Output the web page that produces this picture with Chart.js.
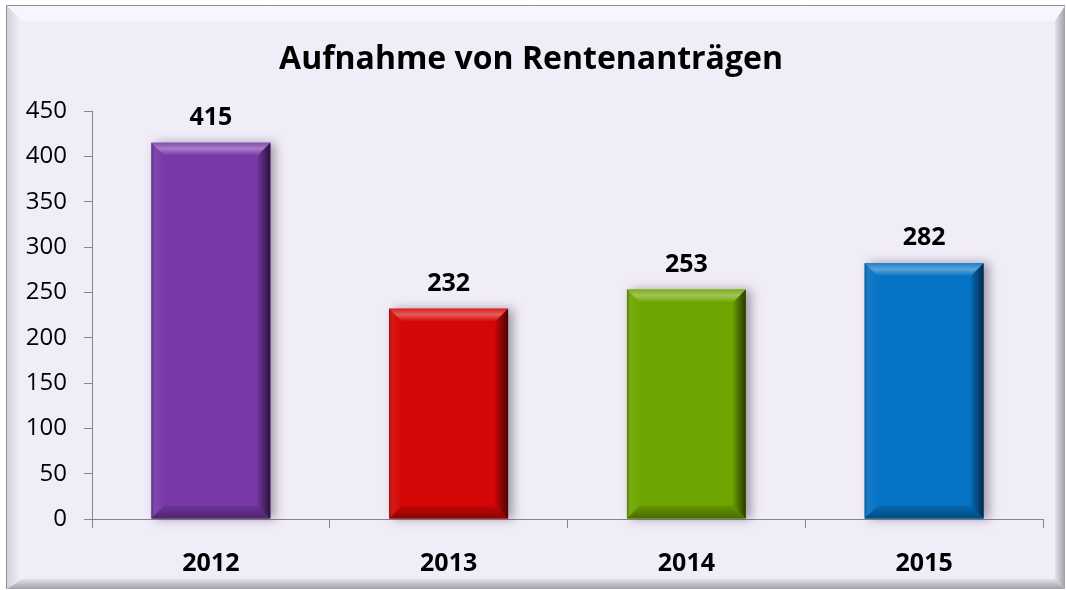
<!DOCTYPE html>
<html>
<head>
<meta charset="utf-8">
<script src="https://cdn.jsdelivr.net/npm/chart.js@4.4.1/dist/chart.umd.min.js"></script>
<style>
  html, body { margin: 0; padding: 0; background: #ffffff; }
  canvas { display: block; }
</style>
</head>
<body>
<canvas id="c" width="1066" height="590"></canvas>
<script>
// ---- data ----
const chartTitle = 'Aufnahme von Rentenanträgen';
const categories = ['2012', '2013', '2014', '2015'];
const values = [415, 232, 253, 282];
const barColors = ['#7838A8', '#D50606', '#6FA500', '#0673C5'];
const yMin = 0;
const yMax = 450;
const yStep = 50;

const FONT = "'Open Sans', 'Noto Sans', sans-serif";
const AXIS_GRAY = '#878787';

// ---- frame / background ----
const framePlugin = {
  id: 'frame',
  beforeDraw(chart) {
    const ctx = chart.ctx;
    const W = chart.width, H = chart.height;
    const L = 7, T = 6, R = W - 1, B = H - 1;
    ctx.save();
    ctx.fillStyle = '#ffffff';
    ctx.fillRect(0, 0, W, H);
    ctx.fillStyle = '#F1EDF8';
    ctx.fillRect(L, T, R - L, B - T);
    const bw = 15, bd = 10;
    // top light bevel
    ctx.beginPath();
    ctx.moveTo(L, T); ctx.lineTo(R, T); ctx.lineTo(R - bd, T + bw); ctx.lineTo(L + bw, T + bw); ctx.closePath();
    ctx.fillStyle = '#F8F6FC'; ctx.fill();
    // left bevel
    ctx.beginPath();
    ctx.moveTo(L, T); ctx.lineTo(L + bw, T + bw); ctx.lineTo(L + bw, B - bd); ctx.lineTo(L, B); ctx.closePath();
    let g = ctx.createLinearGradient(L, 0, L + bw, 0);
    g.addColorStop(0, '#D4D1DA'); g.addColorStop(1, '#F4F1F9');
    ctx.fillStyle = g; ctx.fill();
    // right dark bevel
    ctx.beginPath();
    ctx.moveTo(R, T); ctx.lineTo(R, B); ctx.lineTo(R - bd, B - bd); ctx.lineTo(R - bd, T + bw); ctx.closePath();
    g = ctx.createLinearGradient(R - bd, 0, R, 0);
    g.addColorStop(0, '#E4E0EA'); g.addColorStop(1, '#A3A0A8');
    ctx.fillStyle = g; ctx.fill();
    // bottom dark bevel
    ctx.beginPath();
    ctx.moveTo(L, B); ctx.lineTo(R, B); ctx.lineTo(R - bd, B - bd); ctx.lineTo(L + bw, B - bd); ctx.closePath();
    g = ctx.createLinearGradient(0, B - bd, 0, B);
    g.addColorStop(0, '#E4E0EA'); g.addColorStop(1, '#A3A0A8');
    ctx.fillStyle = g; ctx.fill();
    // outline (top/left)
    ctx.strokeStyle = '#8E8E8E';
    ctx.lineWidth = 1;
    ctx.beginPath();
    ctx.moveTo(L - 0.5, B); ctx.lineTo(L - 0.5, T - 0.5); ctx.lineTo(R, T - 0.5);
    ctx.stroke();
    // title
    ctx.fillStyle = '#000000';
    ctx.font = 'bold 32px ' + FONT;
    ctx.textAlign = 'center';
    ctx.textBaseline = 'alphabetic';
    ctx.fillText(chartTitle, 531, 69);
    ctx.restore();
  }
};

function barBox(bar) {
  const p = bar.getProps(['x', 'y', 'base', 'width'], true);
  return { l: p.x - p.width / 2, r: p.x + p.width / 2, t: Math.min(p.y, p.base), b: Math.max(p.y, p.base), x: p.x, y: p.y };
}

// ---- shadow behind bars, bevel on bars, value labels ----
const barFxPlugin = {
  id: 'barFx',
  beforeDatasetsDraw(chart) {
    const ctx = chart.ctx;
    const meta = chart.getDatasetMeta(0);
    ctx.save();
    meta.data.forEach((bar, i) => {
      const bx = barBox(bar);
      ctx.shadowColor = 'rgba(60,50,70,0.45)';
      ctx.shadowBlur = 10;
      ctx.shadowOffsetX = 5;
      ctx.shadowOffsetY = 0;
      ctx.fillStyle = barColors[i];
      ctx.fillRect(bx.l, bx.t, bx.r - bx.l, bx.b - bx.t);
    });
    ctx.restore();
  },
  afterDatasetsDraw(chart) {
    const ctx = chart.ctx;
    const meta = chart.getDatasetMeta(0);
    const e = 13;
    ctx.save();
    meta.data.forEach((bar, i) => {
      const { l, r, t, b, x } = barBox(bar);
      // top highlight
      ctx.beginPath();
      ctx.moveTo(l, t); ctx.lineTo(r, t); ctx.lineTo(r - e, t + e); ctx.lineTo(l + e, t + e); ctx.closePath();
      let g = ctx.createLinearGradient(0, t, 0, t + e);
      g.addColorStop(0, 'rgba(255,255,255,0.10)');
      g.addColorStop(0.45, 'rgba(255,255,255,0.35)');
      g.addColorStop(1, 'rgba(255,255,255,0.0)');
      ctx.fillStyle = g; ctx.fill();
      // left edge
      ctx.beginPath();
      ctx.moveTo(l, t); ctx.lineTo(l + e, t + e); ctx.lineTo(l + e, b - e); ctx.lineTo(l, b); ctx.closePath();
      g = ctx.createLinearGradient(l, 0, l + e, 0);
      g.addColorStop(0, 'rgba(0,0,0,0.25)');
      g.addColorStop(0.35, 'rgba(255,255,255,0.06)');
      g.addColorStop(1, 'rgba(255,255,255,0.0)');
      ctx.fillStyle = g; ctx.fill();
      // right dark edge
      ctx.beginPath();
      ctx.moveTo(r, t); ctx.lineTo(r, b); ctx.lineTo(r - e, b - e); ctx.lineTo(r - e, t + e); ctx.closePath();
      g = ctx.createLinearGradient(r - e, 0, r, 0);
      g.addColorStop(0, 'rgba(0,0,0,0.05)');
      g.addColorStop(1, 'rgba(0,0,0,0.65)');
      ctx.fillStyle = g; ctx.fill();
      // bottom dark edge
      ctx.beginPath();
      ctx.moveTo(l, b); ctx.lineTo(r, b); ctx.lineTo(r - e, b - e); ctx.lineTo(l + e, b - e); ctx.closePath();
      g = ctx.createLinearGradient(0, b - e, 0, b);
      g.addColorStop(0, 'rgba(0,0,0,0.08)');
      g.addColorStop(1, 'rgba(0,0,0,0.35)');
      ctx.fillStyle = g; ctx.fill();
      // value label
      ctx.fillStyle = '#000000';
      ctx.font = 'bold 25px ' + FONT;
      ctx.textAlign = 'center';
      ctx.textBaseline = 'middle';
      ctx.fillText(String(values[i]), x, t - 25);
    });
    ctx.restore();
  }
};

new Chart(document.getElementById('c'), {
  type: 'bar',
  data: {
    labels: categories,
    datasets: [{
      data: values,
      backgroundColor: barColors,
      borderWidth: 0,
      barPercentage: 0.5,
      categoryPercentage: 1.0
    }]
  },
  options: {
    responsive: false,
    animation: false,
    devicePixelRatio: 1,
    layout: { padding: { left: 8, right: 23, top: 111, bottom: 0 } },
    plugins: {
      legend: { display: false },
      title: { display: false },
      tooltip: { enabled: false }
    },
    scales: {
      x: {
        offset: true,
        grid: { display: true, drawOnChartArea: false, drawTicks: true, tickLength: 9, color: AXIS_GRAY, offset: true },
        border: { display: true, color: AXIS_GRAY, width: 1 },
        ticks: { color: '#000000', font: { family: FONT, size: 25, weight: 'bold' }, padding: 21, maxRotation: 0 },
        afterFit(s) { s.height = 71; }
      },
      y: {
        min: yMin,
        max: yMax,
        grid: { display: true, drawOnChartArea: false, drawTicks: true, tickLength: 8, color: AXIS_GRAY },
        border: { display: true, color: AXIS_GRAY, width: 1 },
        ticks: { stepSize: yStep, color: '#000000', font: { family: FONT, size: 24 }, padding: 17 },
        afterFit(s) { s.width = 84; }
      }
    }
  },
  plugins: [framePlugin, barFxPlugin]
});
</script>
</body>
</html>
